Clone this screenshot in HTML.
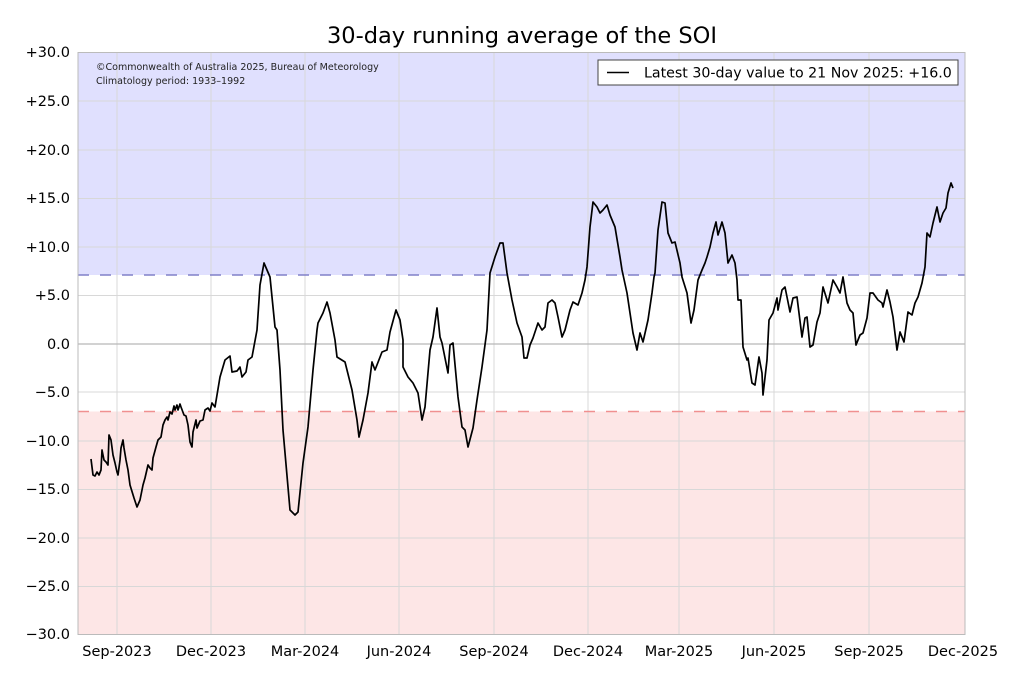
<!DOCTYPE html>
<html><head><meta charset="utf-8"><style>
body{margin:0;background:#fff;}
svg{display:block;font-family:"DejaVu Sans","Liberation Sans",sans-serif;}
</style></head><body>
<svg width="1024" height="683" viewBox="0 0 1024 683">
<rect x="78" y="52.5" width="887" height="222.5" fill="#e0e0fe"/>
<rect x="78" y="411.5" width="887" height="223" fill="#fde6e6"/>
<g stroke="#d8d8d8" stroke-width="1">
<line x1="117" y1="52" x2="117" y2="634"/><line x1="211" y1="52" x2="211" y2="634"/>
<line x1="305" y1="52" x2="305" y2="634"/><line x1="399" y1="52" x2="399" y2="634"/>
<line x1="494" y1="52" x2="494" y2="634"/><line x1="588" y1="52" x2="588" y2="634"/>
<line x1="679" y1="52" x2="679" y2="634"/><line x1="774" y1="52" x2="774" y2="634"/>
<line x1="869" y1="52" x2="869" y2="634"/>
<line x1="78" y1="101" x2="965" y2="101"/><line x1="78" y1="150" x2="965" y2="150"/>
<line x1="78" y1="198.5" x2="965" y2="198.5"/><line x1="78" y1="247" x2="965" y2="247"/>
<line x1="78" y1="295.5" x2="965" y2="295.5"/>
<line x1="78" y1="392" x2="965" y2="392"/><line x1="78" y1="441" x2="965" y2="441"/>
<line x1="78" y1="489.5" x2="965" y2="489.5"/><line x1="78" y1="538" x2="965" y2="538"/>
<line x1="78" y1="586.5" x2="965" y2="586.5"/>
</g>
<line x1="78" y1="344" x2="965" y2="344" stroke="#b8b8b8" stroke-width="1.2"/>
<line x1="78" y1="275" x2="965" y2="275" stroke="#8080c8" stroke-width="1.5" stroke-dasharray="11,11"/>
<line x1="78" y1="411.5" x2="965" y2="411.5" stroke="#f09090" stroke-width="1.5" stroke-dasharray="11,11"/>
<rect x="78" y="52.5" width="887" height="582" fill="none" stroke="#bbb" stroke-width="1"/>
<polyline fill="none" stroke="#000" stroke-width="1.7" stroke-linejoin="round" points="
91,459 93,475 95,476 97,472 99,475 101,470 102,450 104,460 106,462 108,465 109,435 111,440 113,455 115,463 117,472 118,475 120,460 121,448 123,440 124,448 126,460 128,470 130,485 134,498 137,507 140,500 143,485 145,478 148,465 150,468 152,470 153,458 156,447 158,440 161,437 163,425 165,420 167,417 168,420 170,412 172,414 174,406 175,410 177,405 178,410 180,404 181,407 184,415 186,416 188,425 190,442 192,447 193,432 196,420 197,428 200,421 203,420 205,410 208,408 210,411 212,403 215,407 220,377 225,360 230,356 232,372 237,371 240,367 242,377 246,372 248,360 252,357 257,330 260,285 264,263 270,277 275,327 277,330 280,370 283,430 290,510 295,515 298,512 303,463 308,427 313,370 317,330 318,323 323,313 327,302 330,313 335,340 337,357 345,362 352,390 357,420 359,437 363,420 368,393 372,362 375,370 382,352 387,350 390,332 396,310 400,320 403,340 403,367 408,377 413,383 418,393 422,420 425,407 430,350 433,337 437,308 440,337 442,343 448,373 450,345 453,343 458,397 462,427 465,430 468,447 473,428 477,400 482,367 487,330 490,273 495,257 500,243 503,243 507,273 512,300 517,323 522,337 524,358 527,358 530,345 533,338 538,323 542,330 545,327 548,303 552,300 555,303 558,317 562,337 565,330 570,310 573,302 578,305 582,293 585,280 587,267 590,227 593,202 597,207 600,213 603,210 607,205 610,215 615,227 620,257 622,270 627,293 630,313 633,333 637,350 640,333 643,342 648,320 652,293 654,277 655,273 658,230 662,202 665,203 668,233 672,243 675,242 680,263 682,277 687,293 691,323 694,310 698,280 702,270 705,263 707,257 710,247 713,233 716,222 718,235 722,222 725,233 728,263 732,255 735,263 737,280 738,300 741,300 743,347 747,360 748,358 752,383 755,385 759,357 762,373 763,395 767,360 769,320 773,313 777,298 778,310 782,290 785,287 790,312 793,298 797,297 802,337 805,318 807,317 810,347 813,345 817,322 820,313 823,287 828,303 833,280 837,287 840,293 843,277 847,303 850,310 853,313 856,345 860,335 863,333 867,318 870,293 873,293 878,300 882,303 883,307 887,290 890,302 893,317 897,350 900,332 904,342 908,312 912,315 915,303 918,297 922,283 925,267 927,233 930,237 933,223 937,207 940,222 943,213 946,208 948,193 951,183 953,188"/>
<g font-size="14.5" fill="#000" text-anchor="end">
<text x="70" y="57">+30.0</text><text x="70" y="106">+25.0</text><text x="70" y="155">+20.0</text>
<text x="70" y="203">+15.0</text><text x="70" y="252">+10.0</text><text x="70" y="300">+5.0</text>
<text x="70" y="349">0.0</text><text x="70" y="397">−5.0</text><text x="70" y="446">−10.0</text>
<text x="70" y="494">−15.0</text><text x="70" y="543">−20.0</text><text x="70" y="591">−25.0</text>
<text x="70" y="639">−30.0</text>
</g>
<g font-size="14.5" fill="#000" text-anchor="middle">
<text x="117" y="656">Sep-2023</text><text x="211" y="656">Dec-2023</text><text x="305" y="656">Mar-2024</text>
<text x="399" y="656">Jun-2024</text><text x="494" y="656">Sep-2024</text><text x="588" y="656">Dec-2024</text>
<text x="679" y="656">Mar-2025</text><text x="774" y="656">Jun-2025</text><text x="869" y="656">Sep-2025</text>
<text x="963" y="656">Dec-2025</text>
</g>
<text x="522" y="43" font-size="22.5" text-anchor="middle" fill="#000">30-day running average of the SOI</text>
<text x="96" y="70" font-size="9.5" fill="#222">©Commonwealth of Australia 2025, Bureau of Meteorology</text>
<text x="96" y="84" font-size="9.5" fill="#222">Climatology period: 1933–1992</text>
<rect x="598" y="60" width="360" height="25" fill="#fff" stroke="#444" stroke-width="1"/>
<line x1="607" y1="72.5" x2="629" y2="72.5" stroke="#000" stroke-width="1.5"/>
<text x="644" y="77.5" font-size="14.2" fill="#000">Latest 30-day value to 21 Nov 2025: +16.0</text>
</svg>
</body></html>
